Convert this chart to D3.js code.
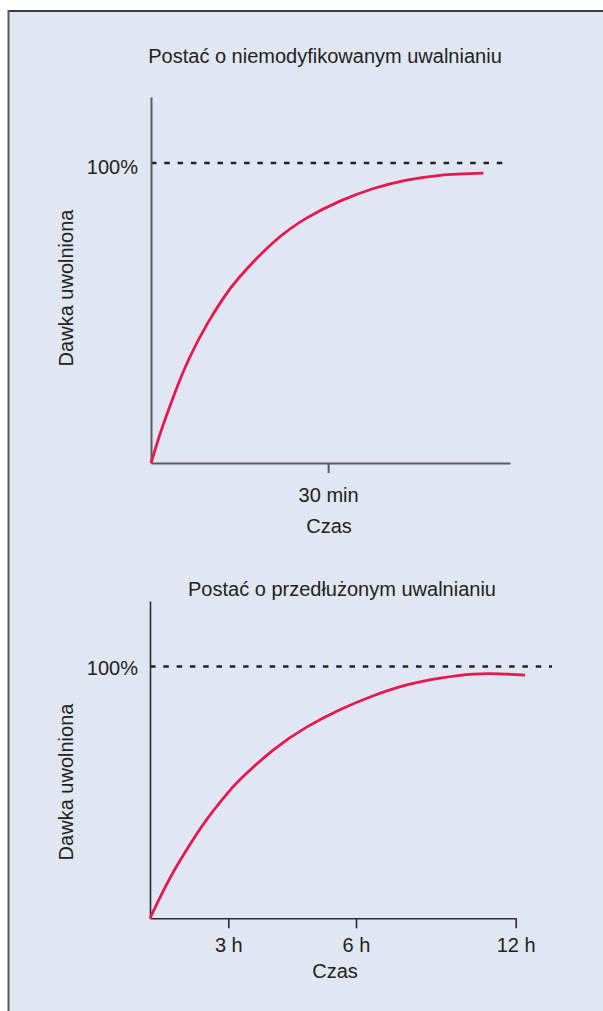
<!DOCTYPE html>
<html>
<head>
<meta charset="utf-8">
<script src="https://cdn.jsdelivr.net/npm/d3@7"></script>
<style>
  html, body { margin: 0; padding: 0; background: #fff; }
  svg { display: block; }
  text { font-family: "Liberation Sans", Arial, Helvetica, sans-serif; fill: #222; }
</style>
</head>
<body>
<svg id="chart"></svg>
<script>
// top panel: immediate release (minutes -> % dose released)
const fastTime = [0, 1, 2, 4, 6.5, 9.5, 12.2, 15, 20.7, 26.4, 32, 37.7, 43.3, 49, 56.3];
const fastRelease = [0, 6.4, 12.4, 23.2, 35, 46.3, 54.8, 62, 73.5, 81.7, 87.3, 91.5, 94.3, 95.9, 96.6];
const fastTicks = [30];
const fastTickLabels = ["30 min"];

// bottom panel: prolonged release (hours -> % dose released)
const slowTime = [0, 0.38, 0.89, 1.53, 2.17, 2.81, 3.27, 4.06, 4.84, 5.62, 6.65, 7.91, 9.16, 10.41, 11.41, 12.35];
const slowRelease = [0, 8.2, 18.3, 29.3, 39.2, 47.7, 55, 66.9, 75.9, 82.8, 88.4, 92.7, 95.4, 97, 97.1, 96.6];
const slowTicks = [3, 6, 12];
const slowTickLabels = ["3 h", "6 h", "12 h"];

const titles = ["Postać o niemodyfikowanym uwalnianiu", "Postać o przedłużonym uwalnianiu"];
const yLabel = "Dawka uwolniona";
const xLabel = "Czas";
const fullLabel = "100%";

const width = 603;
const height = 1011;
const fontSize = "20px";

const svg = d3.select("#chart").attr("width", width).attr("height", height);

// panel background + frame
svg.append("rect").attr("x", 8).attr("y", 10).attr("width", width - 8).attr("height", height - 10)
  .attr("fill", "#e1e7f2");
svg.append("line").attr("x1", 8).attr("x2", width).attr("y1", 11).attr("y2", 11)
  .attr("stroke", "#3c3b40").attr("stroke-width", 2);
svg.append("line").attr("x1", 8.5).attr("x2", 8.5).attr("y1", 10).attr("y2", height)
  .attr("stroke", "#5a5a5e").attr("stroke-width", 2);

function panel(cfg) {
  const g = svg.append("g");
  const x = cfg.x, y = cfg.y;
  const y0 = y.range()[0];

  // dashed 100% reference
  g.append("line")
    .attr("x1", x.range()[0]).attr("x2", cfg.dashEnd)
    .attr("y1", y(100)).attr("y2", y(100))
    .attr("stroke", "#222").attr("stroke-width", 2.6)
    .attr("stroke-dasharray", "5.5 7.8");

  g.append("text")
    .attr("x", 138).attr("y", y(100) + cfg.pctDy)
    .attr("text-anchor", "end").style("font-size", fontSize)
    .text(fullLabel);

  // x axis
  const xAxis = d3.axisBottom(x)
    .tickValues(cfg.ticks)
    .tickFormat((d, i) => cfg.tickLabels[i])
    .tickSize(10).tickSizeOuter(0).tickPadding(cfg.tickPad);
  const gx = g.append("g").attr("transform", `translate(0,${y0})`).call(xAxis);
  gx.select(".domain").attr("stroke", cfg.axisColor).attr("stroke-width", cfg.axisWidth);
  gx.selectAll(".tick line").attr("stroke", cfg.axisColor).attr("stroke-width", cfg.axisWidth);
  gx.selectAll(".tick text").style("font-size", fontSize).attr("fill", "#222")
    .attr("font-family", null);

  // y axis (no ticks)
  const gy = g.append("g").attr("transform", `translate(${x.range()[0]},0)`)
    .call(d3.axisLeft(y).tickValues([]).tickSizeOuter(0));
  gy.select(".domain").attr("stroke", cfg.axisColor).attr("stroke-width", cfg.axisWidth);

  // release curve
  const line = d3.line()
    .x(d => x(d[0]))
    .y(d => y(d[1]))
    .curve(d3.curveNatural);
  g.append("path")
    .datum(d3.zip(cfg.time, cfg.release))
    .attr("d", line)
    .attr("fill", "none")
    .attr("stroke", "#e8174d")
    .attr("stroke-width", 2.8);

  // titles and labels
  g.append("text")
    .attr("x", cfg.titleX).attr("y", cfg.titleY)
    .attr("text-anchor", "middle").style("font-size", fontSize)
    .text(cfg.title);

  g.append("text")
    .attr("transform", `translate(73,${cfg.yLabelY}) rotate(-90)`)
    .attr("text-anchor", "middle").style("font-size", fontSize)
    .text(yLabel);

  g.append("text")
    .attr("x", cfg.xLabelX).attr("y", cfg.xLabelY)
    .attr("text-anchor", "middle").style("font-size", fontSize)
    .text(xLabel);
}

panel({
  x: d3.scaleLinear().domain([0, 60.8]).range([151, 510]),
  y: d3.scaleLinear().domain([0, 122]).range([463, 97]),
  time: fastTime,
  release: fastRelease,
  ticks: fastTicks,
  tickLabels: fastTickLabels,
  tickPad: 14.5,
  dashEnd: 503,
  pctDy: 11,
  axisColor: "#5b5b5e",
  axisWidth: 2,
  title: titles[0],
  titleX: 325,
  titleY: 63,
  yLabelY: 288,
  xLabelX: 329,
  xLabelY: 533
});

panel({
  x: d3.scaleLinear().domain([0, 3, 6, 12]).range([150, 228.3, 356, 515.7]),
  y: d3.scaleLinear().domain([0, 126]).range([918.3, 601]),
  time: slowTime,
  release: slowRelease,
  ticks: slowTicks,
  tickLabels: slowTickLabels,
  tickPad: 9.5,
  dashEnd: 552,
  pctDy: 9,
  axisColor: "#2e2e30",
  axisWidth: 1.6,
  title: titles[1],
  titleX: 342,
  titleY: 596,
  yLabelY: 782,
  xLabelX: 335,
  xLabelY: 978
});
</script>
</body>
</html>
